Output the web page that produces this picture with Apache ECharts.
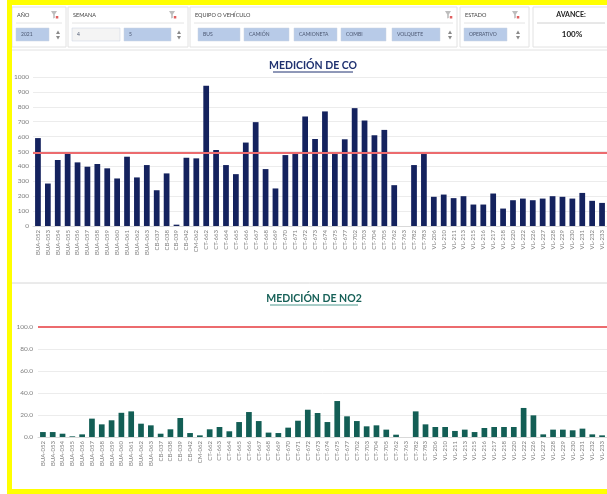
<!DOCTYPE html>
<html>
<head>
<meta charset="utf-8">
<script src="https://cdn.jsdelivr.net/npm/echarts@6/dist/echarts.min.js"></script>
<style>
  html, body { margin: 0; padding: 0; background: #fff; }
  #chart { width: 607px; height: 494px; }
</style>
</head>
<body>
<div id="chart"></div>
<script>
// vehicle codes on the x axis (same for both charts)
const categories = [
  'BUA-052', 'BUA-053', 'BUA-054', 'BUA-055', 'BUA-056', 'BUA-057', 'BUA-058', 'BUA-059', 'BUA-060', 'BUA-061',
  'BUA-062', 'BUA-063', 'CB-037', 'CB-038', 'CB-039', 'CB-042', 'CM-062', 'CT-662', 'CT-663', 'CT-664',
  'CT-665', 'CT-666', 'CT-667', 'CT-668', 'CT-669', 'CT-670', 'CT-671', 'CT-672', 'CT-673', 'CT-674',
  'CT-675', 'CT-677', 'CT-702', 'CT-703', 'CT-704', 'CT-705', 'CT-762', 'CT-763', 'CT-782', 'CT-783',
  'VL-206', 'VL-210', 'VL-211', 'VL-213', 'VL-215', 'VL-216', 'VL-217', 'VL-218', 'VL-220', 'VL-222',
  'VL-226', 'VL-227', 'VL-228', 'VL-229', 'VL-230', 'VL-231', 'VL-232', 'VL-233'
]

const coValues = [
  590, 285, 443, 488, 427, 398, 416, 387, 319, 465,
  326, 409, 240, 353, 9, 458, 454, 942, 510, 409,
  348, 560, 697, 382, 252, 476, 483, 735, 584, 769,
  483, 582, 791, 708, 609, 645, 274, 0, 409, 483,
  196, 211, 187, 200, 144, 144, 218, 117, 173, 184,
  173, 184, 200, 196, 184, 222, 169, 155
]

const no2Values = [
  4.5, 4.5, 3, 0.6, 2.4, 16.7, 11.5, 15.2, 22, 23.3,
  12.1, 10.6, 3, 7, 17.3, 3.6, 1.5, 7, 9.1, 5.2,
  13.6, 22.7, 14.5, 4, 3.6, 8.5, 14.8, 24.8, 21.8, 13.6,
  32.7, 18.8, 14.5, 9.7, 10.6, 6.7, 2.1, 0, 23.3, 11.5,
  9.1, 9.1, 5.5, 6.7, 4.5, 8.2, 9.1, 9.1, 9.1, 26.4,
  19.7, 2.4, 6.7, 6.7, 6.1, 7.6, 2.4, 1.5
]

const coLimit = 490
const no2Limit = 100

const fontFamily = 'Lato, "Noto Sans", sans-serif'
const labelGray = '#7f7f7f'
const slicerBlue = '#b8cbe8'

// ---- header (slicers) drawn as graphic elements ----
function slicerBox(x, w, title, iconX, arrowX) {
  const items = [
    { type: 'rect', shape: { x: x, y: 7, width: w, height: 40 }, style: { fill: '#fff', stroke: '#e2e2e2', lineWidth: 1 } },
    { type: 'text', x: x + 5, y: 15, style: { text: title, font: '5.5px ' + fontFamily, fill: '#404040', verticalAlign: 'middle' } },
    { type: 'line', shape: { x1: x + 4, y1: 23, x2: x + w - 4, y2: 23 }, style: { stroke: '#e4e4e4', lineWidth: 1 } }
  ]
  // filter icon
  items.push({
    type: 'polygon',
    shape: { points: [[iconX - 3, 11], [iconX + 3, 11], [iconX + 0.8, 14.5], [iconX + 0.8, 18], [iconX - 0.8, 18.5], [iconX - 0.8, 14.5]] },
    style: { fill: '#bdbdbd' }
  })
  items.push({ type: 'rect', shape: { x: iconX + 1.8, y: 16, width: 2.5, height: 2.5 }, style: { fill: '#e06060' } })
  // scroll arrows
  items.push({ type: 'polygon', shape: { points: [[arrowX - 2, 34], [arrowX + 2, 34], [arrowX, 30.5]] }, style: { fill: '#8a8a8a' } })
  items.push({ type: 'polygon', shape: { points: [[arrowX - 2, 36], [arrowX + 2, 36], [arrowX, 39.5]] }, style: { fill: '#8a8a8a' } })
  return items
}

function slicerButton(x, w, text, fill) {
  return [
    { type: 'rect', shape: { x: x, y: 28, width: w, height: 13 }, style: { fill: fill, stroke: '#c9d3e3', lineWidth: 0.5 } },
    { type: 'text', x: x + 5, y: 34.5, style: { text: text, font: '5px ' + fontFamily, fill: '#4a5670', verticalAlign: 'middle' } }
  ]
}

let header = []
header = header.concat(slicerBox(12, 54, 'AÑO', 54, 58))
header = header.concat(slicerButton(16, 33, '2021', slicerBlue))
header = header.concat(slicerBox(68, 120, 'SEMANA', 172, 179))
header = header.concat(slicerButton(72, 48, '4', '#f4f4f4'))
header = header.concat(slicerButton(124, 47, '5', slicerBlue))
header = header.concat(slicerBox(190, 267, 'EQUIPO O VEHÍCULO', 448, 450))
header = header.concat(slicerButton(198, 42, 'BUS', slicerBlue))
header = header.concat(slicerButton(244, 45, 'CAMIÓN', slicerBlue))
header = header.concat(slicerButton(294, 43, 'CAMIONETA', slicerBlue))
header = header.concat(slicerButton(341, 45, 'COMBI', slicerBlue))
header = header.concat(slicerButton(392, 48, 'VOLQUETE', slicerBlue))
header = header.concat(slicerBox(460, 69, 'ESTADO', 515, 518))
header = header.concat(slicerButton(464, 43, 'OPERATIVO', slicerBlue))
header.push(
  { type: 'rect', shape: { x: 533, y: 7, width: 76, height: 40 }, style: { fill: '#fff', stroke: '#e2e2e2', lineWidth: 1 } },
  { type: 'text', x: 571, y: 15, style: { text: 'AVANCE:', font: 'bold 7px ' + fontFamily, fill: '#222', align: 'center', verticalAlign: 'middle' } },
  { type: 'line', shape: { x1: 537, y1: 23, x2: 605, y2: 23 }, style: { stroke: '#d0d0d0', lineWidth: 1 } },
  { type: 'text', x: 572, y: 34.5, style: { text: '100%', font: 'bold 8px ' + fontFamily, fill: '#222', align: 'center', verticalAlign: 'middle' } }
)

const decorations = [
  // titles with underline
  { type: 'text', x: 313, y: 66, style: { text: 'MEDICIÓN DE CO', font: 'bold 10.5px ' + fontFamily, fill: '#1f3170', align: 'center', verticalAlign: 'middle' } },
  { type: 'line', shape: { x1: 273, y1: 72, x2: 353, y2: 72 }, style: { stroke: '#1f3170', lineWidth: 1 } },
  { type: 'text', x: 314, y: 299, style: { text: 'MEDICIÓN DE NO2', font: 'bold 10.5px ' + fontFamily, fill: '#176158', align: 'center', verticalAlign: 'middle' } },
  { type: 'line', shape: { x1: 270, y1: 305, x2: 358, y2: 305 }, style: { stroke: '#4f9a90', lineWidth: 1 } },
  // panel separators
  { type: 'line', shape: { x1: 12, y1: 50, x2: 607, y2: 50 }, style: { stroke: '#e2e2e2', lineWidth: 1 } },
  { type: 'line', shape: { x1: 12, y1: 283, x2: 607, y2: 283 }, style: { stroke: '#d6d6d6', lineWidth: 1 } },
  // yellow frame
  { type: 'rect', shape: { x: 8, y: 0, width: 599, height: 5 }, style: { fill: '#ffff00' } },
  { type: 'rect', shape: { x: 7, y: 0, width: 5, height: 494 }, style: { fill: '#ffff00' } },
  { type: 'rect', shape: { x: 8, y: 489, width: 599, height: 5 }, style: { fill: '#ffff00' } }
]

const chart = echarts.init(document.getElementById('chart'), null, { renderer: 'canvas' })

chart.setOption({
  animation: false,
  backgroundColor: '#fff',
  textStyle: { fontFamily: fontFamily },
  graphic: header.concat(decorations),
  grid: [
    { left: 33, right: 0, top: 77, height: 149 },
    { left: 38, right: 0, top: 327, height: 110 }
  ],
  xAxis: [
    {
      type: 'category',
      gridIndex: 0,
      data: categories,
      axisTick: { show: false },
      axisLine: { lineStyle: { color: '#d9d9d9' } },
      axisLabel: { interval: 0, rotate: 90, fontSize: 6, color: labelGray, margin: 4 }
    },
    {
      type: 'category',
      gridIndex: 1,
      data: categories,
      axisTick: { show: false },
      axisLine: { lineStyle: { color: '#d9d9d9' } },
      axisLabel: { interval: 0, rotate: 90, fontSize: 6, color: labelGray, margin: 4 }
    }
  ],
  yAxis: [
    {
      type: 'value',
      gridIndex: 0,
      min: 0,
      max: 1000,
      interval: 100,
      axisLine: { show: false },
      axisTick: { show: false },
      axisLabel: { fontSize: 6.5, color: labelGray, margin: 4, formatter: v => String(v) },
      splitLine: { lineStyle: { color: '#ececec' } }
    },
    {
      type: 'value',
      gridIndex: 1,
      min: 0,
      max: 100,
      interval: 20,
      axisLine: { show: false },
      axisTick: { show: false },
      axisLabel: { fontSize: 6.5, color: labelGray, margin: 5, formatter: v => v.toFixed(1) },
      splitLine: { lineStyle: { color: '#ececec' } }
    }
  ],
  series: [
    {
      name: 'CO',
      type: 'bar',
      xAxisIndex: 0,
      yAxisIndex: 0,
      barWidth: '58%',
      itemStyle: { color: '#14225e' },
      data: coValues,
      markLine: {
        silent: true,
        symbol: 'none',
        label: { show: false },
        lineStyle: { color: '#ec6b6e', width: 2, type: 'solid' },
        data: [{ yAxis: coLimit }]
      }
    },
    {
      name: 'NO2',
      type: 'bar',
      xAxisIndex: 1,
      yAxisIndex: 1,
      barWidth: '58%',
      itemStyle: { color: '#135e55' },
      data: no2Values,
      markLine: {
        silent: true,
        symbol: 'none',
        label: { show: false },
        lineStyle: { color: '#ec6b6e', width: 2, type: 'solid' },
        data: [{ yAxis: no2Limit }]
      }
    }
  ]
})
</script>
</body>
</html>
